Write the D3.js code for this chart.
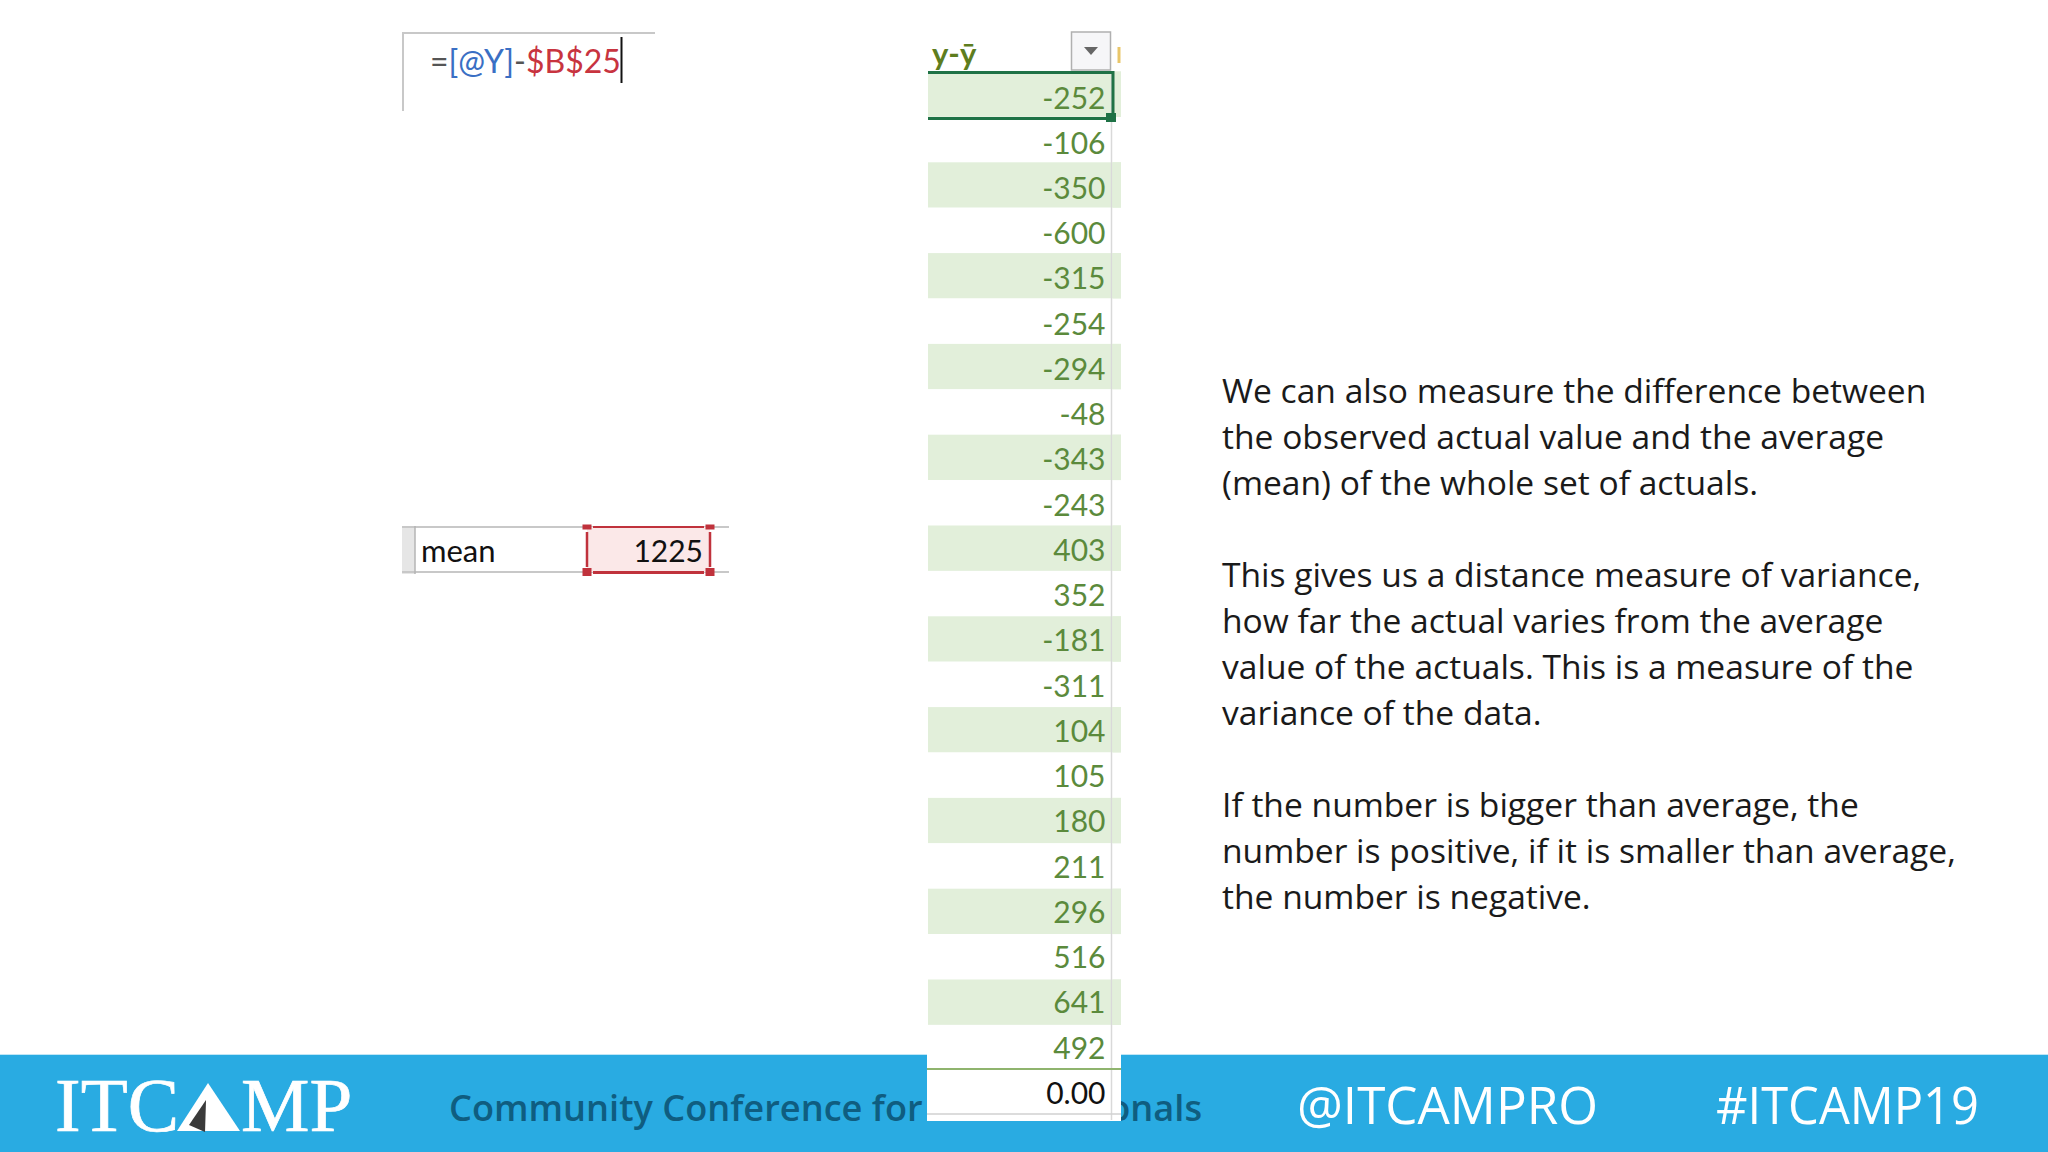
<!DOCTYPE html>
<html><head><meta charset="utf-8">
<script src="https://cdn.jsdelivr.net/npm/d3@7"></script>
<style>html,body{margin:0;padding:0;background:#fff;overflow:hidden}svg{display:block}</style>
</head><body><svg id="c" width="2048" height="1152"></svg>
<script>
const columnTitle = "y-ȳ";
const deviations = [-252,-106,-350,-600,-315,-254,-294,-48,-343,-243,403,352,-181,-311,104,105,180,211,296,516,641,492];
const totalLabel = "0.00";
const meanLabel = "mean";
const meanValue = 1225;
const formulaParts = [["=","#555555"],["[@Y]","#3a6fc4"],["-","#555555"],["$B$25","#c8343f"]];
const paragraphs = [
 ["We can also measure the difference between","the observed actual value and the average","(mean) of the whole set of actuals."],
 ["This gives us a distance measure of variance,","how far the actual varies from the average","value of the actuals. This is a measure of the","variance of the data."],
 ["If the number is bigger than average, the","number is positive, if it is smaller than average,","the number is negative."]
];
const footerLeft = ["Community Conference for","onals"];
const footerHandles = ["@ITCAMPRO","#ITCAMP19"];

const svg = d3.select("#c");
const CAL = "Lato, Carlito, sans-serif", OS = "'Open Sans', sans-serif";
const green = "#1f7246", numGreen = "#5b8a3c", red = "#c0323c";

// footer
svg.append("rect").attr("x",0).attr("y",1055).attr("width",2048).attr("height",97).attr("fill","#29abe2");
svg.append("rect").attr("x",0).attr("y",1054).attr("width",2048).attr("height",1).attr("fill","#bfe6f6");
const lg = svg.append("g").attr("font-family","'Liberation Serif',serif").attr("font-size",77).attr("fill","#fff").attr("stroke","#fff").attr("stroke-width",0.7);
lg.append("text").attr("x",55).attr("y",1131).text("ITC");
lg.append("text").attr("x",241).attr("y",1131).text("MP");
svg.append("path").attr("d","M208,1083L240,1131L177,1131Z").attr("fill","#fff");
svg.append("path").attr("d","M206,1100L189,1125L205,1132Z").attr("fill","#3a3a3a");
svg.append("text").attr("x",449).attr("y",1121).attr("font-family",OS).attr("font-size",36.2).attr("font-weight",600).attr("fill","#0f5d80").text(footerLeft[0]);
svg.append("text").attr("x",1202).attr("y",1121).attr("text-anchor","end").attr("font-family",OS).attr("font-size",36.2).attr("font-weight",600).attr("fill","#0f5d80").text(footerLeft[1]);
svg.selectAll("text.h").data(footerHandles).join("text").attr("class","h")
  .attr("x",(d,i)=>[1297,1716][i]).attr("y",1124).attr("font-family",OS).attr("font-size",51)
  .attr("textLength",(d,i)=>[301,263][i]).attr("lengthAdjust","spacingAndGlyphs").attr("fill","#fff").text(d=>d);

// formula box
svg.append("path").attr("d","M403,111V33H655").attr("fill","none").attr("stroke","#c8c8c8").attr("stroke-width",2);
const ft = svg.append("text").attr("x",430).attr("y",73).attr("font-family",CAL).attr("font-size",32);
ft.selectAll("tspan").data(formulaParts).join("tspan").attr("fill",d=>d[1]).text(d=>d[0]);
svg.append("line").attr("x1",621.5).attr("x2",621.5).attr("y1",37).attr("y2",83).attr("stroke","#111").attr("stroke-width",2);

// mean cell
svg.append("rect").attr("x",402).attr("y",526).attr("width",13).attr("height",48).attr("fill","#e6e6e6");
[527,572].forEach(y=>svg.append("line").attr("x1",402).attr("x2",729).attr("y1",y).attr("y2",y).attr("stroke","#c8c8c8").attr("stroke-width",2));
svg.append("line").attr("x1",415).attr("x2",415).attr("y1",526).attr("y2",574).attr("stroke","#b5b5b5").attr("stroke-width",1.5);
svg.append("rect").attr("x",587).attr("y",527).attr("width",123).attr("height",45).attr("fill","#fbe8e8");
svg.append("path").attr("d","M593,527H704").attr("stroke",red).attr("stroke-width",2);
svg.append("path").attr("d","M593,572.5H704").attr("stroke",red).attr("stroke-width",3);
svg.append("path").attr("d","M587,532V567M710,532V567").attr("stroke",red).attr("stroke-width",2.5);
svg.selectAll("rect.hd").data([[587,527,9,5],[710,527,9,5],[587,572,9,8],[710,572,9,8]]).join("rect").attr("class","hd")
  .attr("x",d=>d[0]-d[2]/2).attr("y",d=>d[1]-d[3]/2).attr("width",d=>d[2]).attr("height",d=>d[3]).attr("fill",red);
svg.append("text").attr("x",421).attr("y",562).attr("font-family",CAL).attr("font-size",31).attr("fill","#111").text(meanLabel);
svg.append("text").attr("x",703).attr("y",562).attr("text-anchor","end").attr("font-family",CAL).attr("font-size",30).attr("fill","#111").text(meanValue);

// table
const y = d3.scaleBand().domain(d3.range(deviations.length+1)).range([71.5,71.5+45.4*(deviations.length+1)]);
const textY = d3.scaleLinear().domain([0,deviations.length-1]).range([108.5,1058.5]);
svg.append("rect").attr("x",927).attr("y",y(deviations.length)-50).attr("width",194).attr("height",1121-y(deviations.length)+50).attr("fill","#fff");
svg.selectAll("rect.band").data(deviations).join("rect").attr("class","band")
  .attr("x",928).attr("width",193).attr("y",(d,i)=>y(i)).attr("height",y.bandwidth())
  .attr("fill",(d,i)=>i%2===0?"#e2efda":"#fff");
svg.append("line").attr("x1",1111.5).attr("x2",1111.5).attr("y1",72).attr("y2",1120).attr("stroke","#d9d9d9").attr("stroke-width",1.5);
svg.selectAll("rect.band2").data(deviations).join("rect").attr("class","band2")
  .attr("x",1112.5).attr("width",8.5).attr("y",(d,i)=>y(i)).attr("height",y.bandwidth())
  .attr("fill",(d,i)=>i%2===0?"#e2efda":"none");
svg.selectAll("text.v").data(deviations).join("text").attr("class","v")
  .attr("x",1105.5).attr("y",(d,i)=>textY(i)).attr("text-anchor","end")
  .attr("font-family",CAL).attr("font-size",30).attr("fill",numGreen).text(d=>d);
svg.append("line").attr("x1",927).attr("x2",1121).attr("y1",1069).attr("y2",1069).attr("stroke","#8fb46e").attr("stroke-width",2);
svg.append("line").attr("x1",927).attr("x2",1121).attr("y1",1114).attr("y2",1114).attr("stroke","#d0d0d0").attr("stroke-width",1.5);
svg.append("text").attr("x",1105.5).attr("y",1104).attr("text-anchor","end").attr("font-family",CAL).attr("font-size",30).attr("fill","#111").text(totalLabel);

// header and selection
svg.append("text").attr("x",932).attr("y",65).attr("font-family",CAL).attr("font-size",31).attr("font-weight",700).attr("fill","#5e7d1e").text(columnTitle);
svg.append("rect").attr("x",1071.5).attr("y",32).attr("width",39).attr("height",38).attr("fill","#f6f6f8").attr("stroke","#b0b0b0").attr("stroke-width",1.5);
svg.append("path").attr("d","M1084,47H1098L1091,55Z").attr("fill","#666");
svg.append("path").attr("d","M1119,63V47").attr("stroke","#e9c66a").attr("stroke-width",3).attr("fill","none");
svg.append("path").attr("d","M928,72.5H1113V118M928,118.5H1108").attr("fill","none").attr("stroke",green).attr("stroke-width",3);
svg.append("rect").attr("x",1106).attr("y",113).attr("width",10).attr("height",9).attr("fill",green);

// body text
const lineYs = [[403,449,495],[587,633,679,725],[817,863,909]];
const tg = svg.append("g").attr("font-family",OS).attr("font-size",33.6).attr("fill","#1a1a1a");
paragraphs.forEach((p,k)=>{
  tg.selectAll("text.p"+k).data(p).join("text").attr("class","p"+k).attr("x",1222).attr("y",(d,i)=>lineYs[k][i]).text(d=>d);
});
</script></body></html>
